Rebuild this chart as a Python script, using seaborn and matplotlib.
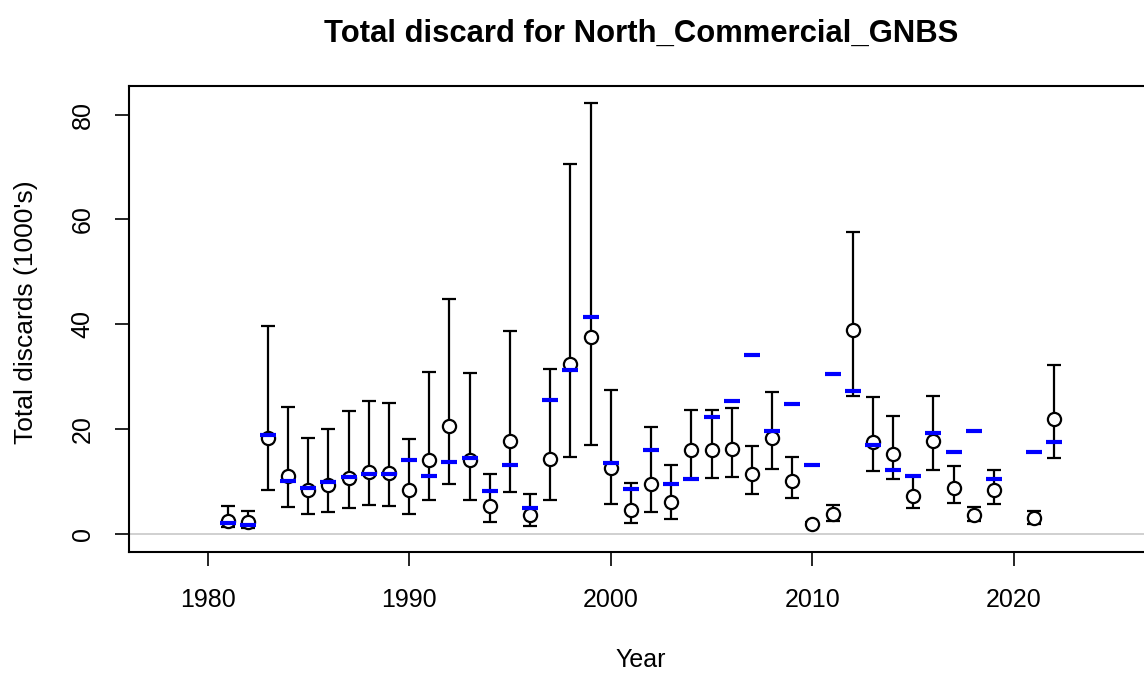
import numpy as np
import pandas as pd
import seaborn as sns
import matplotlib.pyplot as plt

# Observed discards (open circles), their CI and the model prediction (blue dash)
years = [1981, 1982, 1983, 1984, 1985, 1986, 1987, 1988, 1989, 1990,
         1991, 1992, 1993, 1994, 1995, 1996, 1997, 1998, 1999, 2000,
         2001, 2002, 2003, 2004, 2005, 2006, 2007, 2008, 2009, 2010,
         2011, 2012, 2013, 2014, 2015, 2016, 2017, 2018, 2019, 2021, 2022]
observed = [2.4, 2.2, 18.2, 11.0, 8.4, 9.2, 10.7, 11.8, 11.5, 8.4,
            14.1, 20.5, 14.0, 5.3, 17.6, 3.5, 14.3, 32.4, 37.5, 12.6,
            4.5, 9.4, 6.0, 15.9, 15.9, 16.1, 11.3, 18.2, 10.1, 1.9,
            3.8, 38.9, 17.5, 15.2, 7.1, 17.7, 8.8, 3.6, 8.3, 3.0, 21.8]
lower = [1.3, 1.0, 8.3, 5.1, 3.8, 4.1, 4.9, 5.4, 5.2, 3.8,
         6.4, 9.4, 6.4, 2.2, 8.0, 1.4, 6.5, 14.6, 16.9, 5.6,
         2.0, 4.1, 2.7, 10.4, 10.7, 10.8, 7.6, 12.3, 6.8, 1.6,
         2.4, 26.3, 12.0, 10.4, 4.8, 12.1, 5.9, 2.5, 5.6, 1.9, 14.5]
upper = [5.2, 4.3, 39.6, 24.1, 18.2, 19.9, 23.4, 25.3, 24.9, 18.0,
         30.8, 44.9, 30.7, 11.3, 38.7, 7.5, 31.4, 70.6, 82.2, 27.4,
         9.7, 20.4, 13.1, 23.7, 23.7, 23.9, 16.7, 27.0, 14.6, 2.2,
         5.4, 57.6, 26.1, 22.4, 11.0, 26.3, 12.9, 5.1, 12.2, 4.3, 32.2]
predicted = [2.0, 1.6, 18.8, 10.0, 8.8, 9.8, 10.8, 11.3, 11.3, 14.0,
             11.0, 13.6, 14.5, 8.1, 13.1, 4.8, 25.5, 31.2, 41.3, 13.5,
             8.6, 15.9, 9.4, 10.5, 22.2, 25.3, 34.1, 19.6, 24.7, 13.1,
             30.5, 27.3, 17.0, 12.2, 11.0, 19.3, 15.6, 19.6, 10.5, 15.6, 17.5]

df = pd.DataFrame({'Year': years, 'obs': observed, 'lo': lower,
                   'hi': upper, 'pred': predicted})

sns.set_style('white')
plt.rcParams['font.family'] = ['Liberation Sans', 'DejaVu Sans']
plt.rcParams['text.color'] = 'black'
plt.rcParams['axes.labelcolor'] = 'black'

fig = plt.figure(figsize=(11.44, 6.75), dpi=100)
ax = fig.add_axes([0.113, 0.1827, 0.8947, 0.69])

ax.axhline(0, color='#c8c8c8', lw=1.2, zorder=1)

# error bars
ax.errorbar(df['Year'], df['obs'],
            yerr=[df['obs'] - df['lo'], df['hi'] - df['obs']],
            fmt='none', ecolor='black', elinewidth=1.6, capsize=5,
            capthick=1.6, zorder=2)

sns.scatterplot(data=df, x='Year', y='obs', ax=ax, marker='o', s=90,
                facecolor='white', edgecolor='black', linewidth=1.6,
                zorder=3)
sns.scatterplot(data=df, x='Year', y='pred', ax=ax, marker='_', s=120,
                color='blue', linewidth=3, zorder=4)

ax.set_xlim(1976.12, 2026.88)
ax.set_ylim(-3.45, 85.5)
ax.set_xticks([1980, 1990, 2000, 2010, 2020])
ax.set_yticks([0, 20, 40, 60, 80])
ax.tick_params(axis='both', direction='out', length=10, width=1.2,
               labelsize=18, colors='black', left=True, bottom=True)
ax.tick_params(axis='x', pad=16)
ax.tick_params(axis='y', pad=15)
for lab in ax.get_yticklabels():
    lab.set_rotation(90)
    lab.set_va('center')

for sp in ax.spines.values():
    sp.set_color('black')
    sp.set_linewidth(1.5)

ax.set_xlabel('Year', fontsize=18, labelpad=26)
ax.set_ylabel("Total discards (1000's)", fontsize=19)
ax.yaxis.set_label_coords(-0.089, 0.515)
ax.set_title('Total discard for North_Commercial_GNBS', fontsize=22.3,
             fontweight='bold', pad=32)

fig.savefig('out.png', dpi=100)
